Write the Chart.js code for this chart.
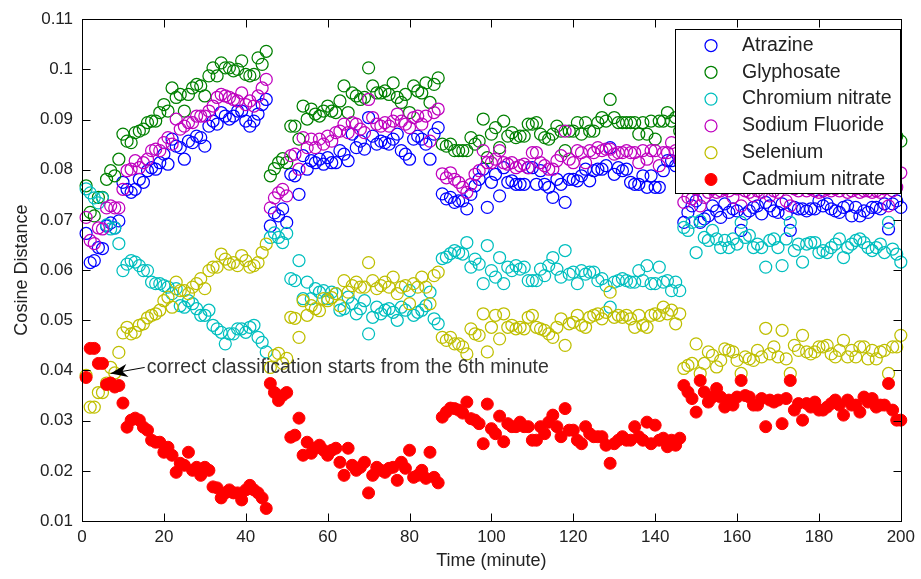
<!DOCTYPE html>
<html><head><meta charset="utf-8">
<script src="https://cdn.jsdelivr.net/npm/chart.js@4.4.0/dist/chart.umd.min.js"></script>
<style>html,body{margin:0;padding:0;background:#fff;}canvas{display:block;}</style>
</head><body>
<canvas id="c" width="921" height="579"></canvas>
<script>
const minutes = Array.from({length: 200}, (_, i) => i + 1);
const xTickValues = [0, 20, 40, 60, 80, 100, 120, 140, 160, 180, 200];
const xTickLabels = ['0', '20', '40', '60', '80', '100', '120', '140', '160', '180', '200'];
const yTickValues = [0.01, 0.02, 0.03, 0.04, 0.05, 0.06, 0.07, 0.08, 0.09, 0.10, 0.11];
const yTickLabels = ['0.01', '0.02', '0.03', '0.04', '0.05', '0.06', '0.07', '0.08', '0.09', '0.1', '0.11'];
const seriesNames = ['Atrazine', 'Glyphosate', 'Chromium nitrate', 'Sodium Fluoride', 'Selenium', 'Cadmium nitrate'];

const atrazine = [
0.0673,0.0615,0.0619,0.0645,0.0643,0.0688,0.0694,0.0684,0.0698,0.0775,
0.0761,0.0755,0.0761,0.0781,0.0775,0.0798,0.0804,0.0801,0.0814,0.0831,
0.0811,0.0861,0.0847,0.0844,0.0821,0.0857,0.0854,0.0867,0.0864,0.0847,
0.0887,0.0897,0.0891,0.0914,0.0907,0.0901,0.0907,0.0917,0.0917,0.0897,
0.0887,0.0897,0.0911,0.0930,0.0940,0.0688,0.0714,0.0708,0.0722,0.0695,
0.0791,0.0788,0.0751,0.0828,0.0801,0.0818,0.0814,0.0821,0.0811,0.0824,
0.0814,0.0814,0.0838,0.0831,0.0818,0.0871,0.0844,0.0857,0.0841,0.0904,
0.0867,0.0851,0.0857,0.0854,0.0851,0.0861,0.0871,0.0838,0.0831,0.0821,
0.0861,0.0867,0.0861,0.0851,0.0821,0.0871,0.0884,0.0752,0.0742,0.0745,
0.0735,0.0738,0.0738,0.0722,0.0751,0.0768,0.0781,0.0801,0.0725,0.0775,
0.0791,0.0748,0.0804,0.0775,0.0778,0.0771,0.0771,0.0771,0.0804,0.0804,
0.0771,0.0798,0.0771,0.0765,0.0745,0.0781,0.0771,0.0735,0.0781,0.0781,
0.0778,0.0788,0.0801,0.0778,0.0798,0.0801,0.0801,0.0808,0.0844,0.0791,
0.0804,0.0798,0.0801,0.0775,0.0771,0.0771,0.0788,0.0765,0.0788,0.0765,
0.0765,0.0798,0.0818,0.0818,0.0808,0.0818,0.0695,0.0715,0.0728,0.0738,
0.0695,0.0702,0.0708,0.0728,0.0718,0.0705,0.0732,0.0715,0.0722,0.0718,
0.0679,0.0712,0.0718,0.0725,0.0728,0.0712,0.0735,0.0728,0.0718,0.0715,
0.0732,0.0712,0.0679,0.0725,0.0722,0.0722,0.0718,0.0722,0.0722,0.0738,
0.0728,0.0732,0.0722,0.0718,0.0715,0.0725,0.0728,0.0708,0.0725,0.0708,
0.0718,0.0715,0.0725,0.0725,0.0722,0.0732,0.0682,0.0732,0.0738,0.0725];

const glyphosate = [
0.0768,0.0715,0.0708,0.0745,0.0745,0.0781,0.0798,0.0788,0.0821,0.0871,
0.0857,0.0854,0.0874,0.0877,0.0881,0.0894,0.0897,0.0897,0.0914,0.0930,
0.0917,0.0963,0.0944,0.0950,0.0917,0.0950,0.0963,0.0970,0.0967,0.0947,
0.0987,0.1003,0.0987,0.1013,0.1003,0.1003,0.0997,0.1000,0.1017,0.0990,
0.0987,0.0990,0.1023,0.1010,0.1036,0.0788,0.0802,0.0814,0.0822,0.0814,
0.0887,0.0887,0.0861,0.0927,0.0901,0.0921,0.0911,0.0907,0.0917,0.0927,
0.0917,0.0914,0.0937,0.0967,0.0914,0.0953,0.0947,0.0940,0.0944,0.1003,
0.0967,0.0953,0.0953,0.0957,0.0950,0.0973,0.0944,0.0934,0.0950,0.0914,
0.0967,0.0957,0.0953,0.0973,0.0934,0.0970,0.0983,0.0851,0.0847,0.0851,
0.0838,0.0838,0.0838,0.0838,0.0864,0.0851,0.0857,0.0901,0.0824,0.0871,
0.0884,0.0844,0.0897,0.0867,0.0874,0.0864,0.0867,0.0867,0.0891,0.0891,
0.0894,0.0871,0.0864,0.0861,0.0871,0.0887,0.0877,0.0838,0.0877,0.0877,
0.0894,0.0871,0.0894,0.0877,0.0877,0.0894,0.0904,0.0897,0.0940,0.0904,
0.0894,0.0894,0.0894,0.0894,0.0894,0.0871,0.0894,0.0871,0.0897,0.0861,
0.0897,0.0897,0.0914,0.0897,0.0904,0.0877,0.0835,0.0851,0.0844,0.0861,
0.0838,0.0867,0.0851,0.0864,0.0871,0.0857,0.0864,0.0874,0.0861,0.0867,
0.0838,0.0871,0.0864,0.0857,0.0874,0.0867,0.0881,0.0871,0.0864,0.0857,
0.0877,0.0874,0.0838,0.0864,0.0871,0.0861,0.0867,0.0857,0.0864,0.0874,
0.0867,0.0861,0.0871,0.0864,0.0857,0.0867,0.0861,0.0871,0.0864,0.0857,
0.0867,0.0874,0.0861,0.0864,0.0871,0.0867,0.0838,0.0861,0.0867,0.0857];

const chromiumNitrate = [
0.0762,0.0754,0.0744,0.0734,0.0744,0.0690,0.0682,0.0684,0.0653,0.0599,
0.0612,0.0619,0.0616,0.0609,0.0599,0.0599,0.0576,0.0573,0.0573,0.0569,
0.0566,0.0553,0.0563,0.0529,0.0526,0.0539,0.0533,0.0523,0.0510,0.0510,
0.0520,0.0490,0.0483,0.0476,0.0453,0.0473,0.0473,0.0483,0.0483,0.0476,
0.0486,0.0490,0.0466,0.0456,0.0437,0.0665,0.0674,0.0665,0.0655,0.0673,
0.0583,0.0579,0.0619,0.0543,0.0576,0.0543,0.0563,0.0556,0.0559,0.0543,
0.0556,0.0553,0.0520,0.0523,0.0546,0.0533,0.0513,0.0523,0.0539,0.0473,
0.0506,0.0526,0.0513,0.0520,0.0523,0.0516,0.0500,0.0526,0.0520,0.0559,
0.0510,0.0516,0.0520,0.0529,0.0556,0.0503,0.0493,0.0623,0.0626,0.0633,
0.0639,0.0635,0.0632,0.0655,0.0606,0.0622,0.0612,0.0573,0.0649,0.0599,
0.0586,0.0625,0.0573,0.0606,0.0599,0.0609,0.0602,0.0606,0.0579,0.0579,
0.0579,0.0602,0.0589,0.0609,0.0625,0.0602,0.0586,0.0639,0.0592,0.0596,
0.0573,0.0599,0.0592,0.0596,0.0596,0.0579,0.0583,0.0569,0.0526,0.0576,
0.0579,0.0583,0.0579,0.0576,0.0576,0.0599,0.0579,0.0609,0.0573,0.0573,
0.0606,0.0576,0.0579,0.0559,0.0576,0.0559,0.0685,0.0679,0.0695,0.0635,
0.0698,0.0665,0.0659,0.0679,0.0662,0.0645,0.0659,0.0645,0.0662,0.0652,
0.0695,0.0665,0.0669,0.0645,0.0652,0.0645,0.0606,0.0659,0.0662,0.0645,
0.0609,0.0662,0.0695,0.0639,0.0652,0.0616,0.0652,0.0655,0.0655,0.0635,
0.0639,0.0635,0.0645,0.0652,0.0662,0.0625,0.0645,0.0652,0.0659,0.0662,
0.0655,0.0645,0.0639,0.0645,0.0652,0.0635,0.0695,0.0642,0.0632,0.0616];

const sodiumFluoride = [
0.0705,0.0659,0.0653,0.0684,0.0682,0.0724,0.0728,0.0724,0.0724,0.0761,
0.0798,0.0801,0.0818,0.0804,0.0814,0.0821,0.0838,0.0841,0.0838,0.0854,
0.0864,0.0851,0.0901,0.0881,0.0887,0.0894,0.0894,0.0907,0.0907,0.0907,
0.0917,0.0927,0.0944,0.0950,0.0947,0.0944,0.0940,0.0937,0.0953,0.0930,
0.0937,0.0927,0.0947,0.0963,0.0980,0.0724,0.0744,0.0754,0.0761,0.0748,
0.0828,0.0831,0.0801,0.0864,0.0844,0.0861,0.0844,0.0861,0.0851,0.0867,
0.0857,0.0874,0.0877,0.0891,0.0874,0.0894,0.0891,0.0881,0.0874,0.0940,
0.0904,0.0891,0.0887,0.0894,0.0887,0.0897,0.0911,0.0897,0.0891,0.0884,
0.0904,0.0907,0.0891,0.0907,0.0857,0.0914,0.0921,0.0792,0.0784,0.0794,
0.0781,0.0775,0.0765,0.0755,0.0771,0.0791,0.0798,0.0838,0.0814,0.0814,
0.0821,0.0838,0.0814,0.0811,0.0814,0.0804,0.0808,0.0811,0.0804,0.0834,
0.0834,0.0814,0.0808,0.0801,0.0801,0.0818,0.0828,0.0877,0.0821,0.0814,
0.0838,0.0834,0.0814,0.0838,0.0834,0.0844,0.0838,0.0841,0.0841,0.0831,
0.0834,0.0834,0.0838,0.0834,0.0834,0.0814,0.0838,0.0821,0.0838,0.0838,
0.0808,0.0834,0.0834,0.0854,0.0838,0.0821,0.0735,0.0745,0.0742,0.0762,
0.0728,0.0745,0.0755,0.0762,0.0755,0.0758,0.0762,0.0758,0.0745,0.0762,
0.0728,0.0758,0.0755,0.0748,0.0758,0.0755,0.0772,0.0748,0.0758,0.0755,
0.0768,0.0738,0.0728,0.0762,0.0758,0.0765,0.0758,0.0762,0.0758,0.0755,
0.0758,0.0762,0.0758,0.0762,0.0758,0.0765,0.0755,0.0758,0.0762,0.0755,
0.0758,0.0758,0.0755,0.0758,0.0755,0.0762,0.0728,0.0758,0.0765,0.0794];

const selenium = [
0.0390,0.0327,0.0327,0.0356,0.0356,0.0375,0.0406,0.0395,0.0436,0.0475,
0.0486,0.0473,0.0476,0.0490,0.0493,0.0505,0.0510,0.0513,0.0520,0.0539,
0.0546,0.0526,0.0576,0.0559,0.0559,0.0553,0.0566,0.0573,0.0583,0.0563,
0.0599,0.0606,0.0606,0.0632,0.0622,0.0612,0.0615,0.0609,0.0629,0.0619,
0.0606,0.0609,0.0615,0.0635,0.0652,0.0406,0.0430,0.0434,0.0414,0.0424,
0.0506,0.0504,0.0466,0.0539,0.0510,0.0529,0.0523,0.0519,0.0543,0.0539,
0.0545,0.0553,0.0529,0.0579,0.0556,0.0569,0.0576,0.0566,0.0566,0.0615,
0.0579,0.0563,0.0569,0.0576,0.0566,0.0586,0.0553,0.0566,0.0569,0.0533,
0.0573,0.0566,0.0586,0.0566,0.0533,0.0589,0.0596,0.0466,0.0460,0.0466,
0.0453,0.0453,0.0447,0.0433,0.0483,0.0473,0.0470,0.0513,0.0437,0.0486,
0.0510,0.0463,0.0513,0.0486,0.0490,0.0483,0.0486,0.0483,0.0506,0.0510,
0.0486,0.0483,0.0480,0.0473,0.0466,0.0486,0.0503,0.0450,0.0493,0.0496,
0.0510,0.0490,0.0486,0.0506,0.0510,0.0513,0.0503,0.0516,0.0556,0.0506,
0.0510,0.0506,0.0510,0.0503,0.0486,0.0510,0.0490,0.0486,0.0510,0.0513,
0.0510,0.0526,0.0513,0.0520,0.0493,0.0513,0.0404,0.0410,0.0414,0.0453,
0.0394,0.0414,0.0437,0.0430,0.0407,0.0420,0.0443,0.0440,0.0437,0.0420,
0.0394,0.0427,0.0423,0.0420,0.0440,0.0427,0.0484,0.0433,0.0447,0.0427,
0.0480,0.0423,0.0394,0.0450,0.0440,0.0470,0.0437,0.0433,0.0437,0.0447,
0.0447,0.0450,0.0433,0.0427,0.0440,0.0460,0.0427,0.0440,0.0427,0.0447,
0.0447,0.0423,0.0440,0.0423,0.0437,0.0440,0.0394,0.0447,0.0447,0.0470];

const cadmiumNitrate = [
0.0386,0.0444,0.0444,0.0414,0.0414,0.0372,0.0375,0.0367,0.0370,0.0335,
0.0287,0.0301,0.0305,0.0301,0.0287,0.0281,0.0261,0.0257,0.0257,0.0237,
0.0247,0.0231,0.0197,0.0215,0.0211,0.0237,0.0201,0.0207,0.0191,0.0207,
0.0201,0.0168,0.0166,0.0146,0.0156,0.0162,0.0156,0.0156,0.0142,0.0162,
0.0171,0.0162,0.0156,0.0146,0.0125,0.0374,0.0356,0.0340,0.0350,0.0356,
0.0267,0.0271,0.0305,0.0231,0.0257,0.0235,0.0245,0.0251,0.0241,0.0231,
0.0241,0.0245,0.0217,0.0191,0.0245,0.0211,0.0201,0.0207,0.0217,0.0156,
0.0191,0.0207,0.0201,0.0197,0.0205,0.0207,0.0181,0.0217,0.0205,0.0241,
0.0187,0.0191,0.0201,0.0185,0.0237,0.0187,0.0176,0.0307,0.0317,0.0325,
0.0324,0.0321,0.0315,0.0337,0.0304,0.0301,0.0294,0.0254,0.0333,0.0284,
0.0274,0.0309,0.0258,0.0294,0.0288,0.0288,0.0297,0.0288,0.0288,0.0261,
0.0261,0.0288,0.0274,0.0297,0.0311,0.0288,0.0268,0.0324,0.0281,0.0281,
0.0261,0.0254,0.0288,0.0274,0.0268,0.0268,0.0268,0.0251,0.0215,0.0254,
0.0261,0.0268,0.0261,0.0261,0.0288,0.0268,0.0261,0.0297,0.0254,0.0291,
0.0261,0.0265,0.0248,0.0261,0.0251,0.0265,0.0370,0.0357,0.0344,0.0317,
0.0380,0.0357,0.0337,0.0347,0.0364,0.0347,0.0327,0.0341,0.0331,0.0347,
0.0380,0.0350,0.0347,0.0331,0.0331,0.0344,0.0288,0.0341,0.0337,0.0341,
0.0294,0.0344,0.0380,0.0321,0.0334,0.0301,0.0334,0.0327,0.0337,0.0321,
0.0321,0.0327,0.0334,0.0341,0.0331,0.0311,0.0341,0.0331,0.0331,0.0317,
0.0347,0.0337,0.0344,0.0327,0.0331,0.0331,0.0374,0.0321,0.0301,0.0301];

const annotationText = 'correct classification starts from the 6th minute';
const xTitle = 'Time (minute)';
const yTitle = 'Cosine Distance';

const FONT = "'Liberation Sans', Arial, sans-serif";
const colors = ['#0000ff', '#008000', '#00bfbf', '#bf00bf', '#bfbf00', '#ff0000'];
const seriesValues = [atrazine, glyphosate, chromiumNitrate, sodiumFluoride, selenium, cadmiumNitrate];
const MR = 6;

const datasets = seriesValues.map((vals, k) => ({
  label: seriesNames[k],
  data: minutes.map((m, i) => ({x: m, y: vals[i]})),
  showLine: false,
  pointStyle: 'circle',
  pointRadius: MR,
  pointHoverRadius: MR,
  borderWidth: k === 5 ? 1 : 1.25,
  borderColor: colors[k],
  backgroundColor: k === 5 ? colors[k] : 'rgba(0,0,0,0)',
  order: 5 - k,
  clip: false
}));

function line(ctx, x1, y1, x2, y2) { ctx.beginPath(); ctx.moveTo(x1, y1); ctx.lineTo(x2, y2); ctx.stroke(); }

const overlay = {
  id: 'overlay',
  afterDatasetsDraw(chart) {
    const {ctx, chartArea: a, scales: {x, y}} = chart;
    ctx.save();
    ctx.strokeStyle = '#000'; ctx.lineWidth = 1;
    const L = Math.round(a.left) + 0.5, R = Math.round(a.right) + 0.5, T = Math.round(a.top) + 0.5, B = Math.round(a.bottom) + 0.5;
    ctx.strokeRect(L, T, R - L, B - T);
    const tl = 8;
    xTickValues.forEach(v => { const p = Math.round(x.getPixelForValue(v)) + 0.5; line(ctx, p, B, p, B - tl); line(ctx, p, T, p, T + tl); });
    yTickValues.forEach(v => { const p = Math.round(y.getPixelForValue(v)) + 0.5; line(ctx, L, p, L + tl, p); line(ctx, R, p, R - tl, p); });
    ctx.fillStyle = '#222';
    ctx.font = '18px ' + FONT;
    ctx.textAlign = 'center'; ctx.textBaseline = 'middle';
    ctx.fillText(xTitle, (a.left + a.right) / 2, 561);
    ctx.save(); ctx.translate(22, (a.top + a.bottom) / 2); ctx.rotate(-Math.PI / 2); ctx.fillText(yTitle, 0, 0); ctx.restore();
    const tipX = x.getPixelForValue(7.0), tipY = y.getPixelForValue(0.0394);
    const txtX = x.getPixelForValue(15.8), txtY = y.getPixelForValue(0.0406);
    ctx.fillStyle = '#333';
    ctx.font = '19.5px ' + FONT;
    ctx.textAlign = 'left';
    ctx.fillText(annotationText, txtX, txtY);
    ctx.strokeStyle = '#000'; ctx.lineWidth = 1;
    const ang = Math.atan2(txtY - tipY, txtX - 2 - tipX);
    line(ctx, tipX, tipY, txtX - 2, txtY);
    const hl = 17, hw = 6.5;
    ctx.fillStyle = '#000';
    ctx.beginPath();
    ctx.moveTo(tipX, tipY);
    ctx.lineTo(tipX + hl * Math.cos(ang) - hw * Math.sin(ang), tipY + hl * Math.sin(ang) + hw * Math.cos(ang));
    ctx.lineTo(tipX + hl * 0.7 * Math.cos(ang), tipY + hl * 0.7 * Math.sin(ang));
    ctx.lineTo(tipX + hl * Math.cos(ang) + hw * Math.sin(ang), tipY + hl * Math.sin(ang) - hw * Math.cos(ang));
    ctx.closePath(); ctx.fill();
    const lx = 675.5, ly = 29.5, lw = 225, lh = 164;
    ctx.fillStyle = '#fff'; ctx.fillRect(lx, ly, lw, lh);
    ctx.strokeStyle = '#000'; ctx.strokeRect(lx, ly, lw, lh);
    ctx.font = '19.5px ' + FONT; ctx.textAlign = 'left'; ctx.textBaseline = 'middle';
    seriesNames.forEach((name, k) => {
      const cy = 45.5 + k * 26.8;
      ctx.beginPath(); ctx.arc(711, cy, MR, 0, Math.PI * 2);
      if (k === 5) { ctx.fillStyle = colors[k]; ctx.fill(); }
      ctx.strokeStyle = colors[k]; ctx.lineWidth = k === 5 ? 1 : 1.25; ctx.stroke();
      ctx.fillStyle = '#222'; ctx.fillText(name, 742, cy);
    });
    ctx.restore();
  }
};

new Chart(document.getElementById('c'), {
  type: 'scatter',
  data: { datasets },
  options: {
    responsive: false,
    devicePixelRatio: 1,
    animation: false,
    events: [],
    layout: { padding: { top: 18, right: 20, left: 0, bottom: 0 } },
    plugins: { legend: { display: false }, tooltip: { enabled: false } },
    scales: {
      x: {
        type: 'linear', min: 0, max: 200,
        afterBuildTicks: s => { s.ticks = xTickValues.map(v => ({ value: v })); },
        afterFit: s => { s.height = 58; },
        grid: { display: false, drawTicks: false }, border: { display: false },
        ticks: { padding: 6, color: '#222', font: { family: FONT, size: 17 }, maxRotation: 0, autoSkip: false,
                 callback: (v, i) => xTickLabels[i] }
      },
      y: {
        type: 'linear', min: 0.01, max: 0.11,
        afterBuildTicks: s => { s.ticks = yTickValues.map(v => ({ value: v })); },
        afterFit: s => { s.width = 82; },
        grid: { display: false, drawTicks: false }, border: { display: false },
        ticks: { padding: 9, color: '#222', font: { family: FONT, size: 17 }, autoSkip: false,
                 callback: (v, i) => yTickLabels[i] }
      }
    }
  },
  plugins: [overlay]
});
</script>
</body></html>
